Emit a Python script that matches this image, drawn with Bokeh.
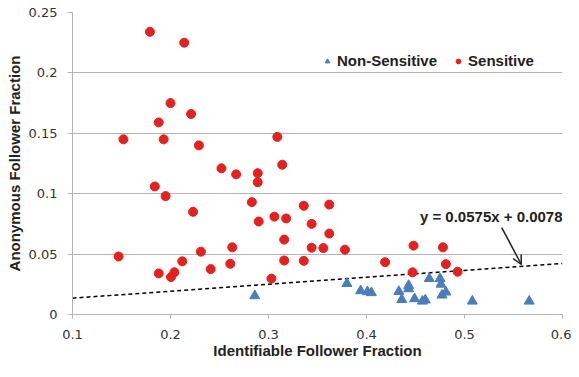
from bokeh.plotting import figure
from bokeh.models import (Range1d, FixedTicker, Legend, LegendItem, Label, Arrow, OpenHead)
from bokeh.embed import file_html
from bokeh.resources import INLINE

# ---- data ----
sens_x = [0.179, 0.214, 0.200, 0.221, 0.188, 0.152, 0.193, 0.229, 0.252, 0.267,
          0.184, 0.195, 0.223, 0.147, 0.231, 0.263, 0.212, 0.261, 0.241, 0.188,
          0.204, 0.2005, 0.309, 0.314, 0.289, 0.289, 0.283, 0.336, 0.362, 0.290,
          0.306, 0.318, 0.344, 0.316, 0.362, 0.344, 0.356, 0.378, 0.316, 0.336,
          0.303, 0.419, 0.448, 0.478, 0.481, 0.447, 0.493]
sens_y = [0.234, 0.225, 0.175, 0.166, 0.159, 0.145, 0.145, 0.140, 0.121, 0.116,
          0.106, 0.098, 0.085, 0.048, 0.052, 0.0556, 0.044, 0.042, 0.0376, 0.034,
          0.035, 0.031, 0.147, 0.124, 0.117, 0.1095, 0.093, 0.090, 0.091, 0.077,
          0.081, 0.0795, 0.075, 0.062, 0.067, 0.0553, 0.055, 0.0537, 0.0447, 0.0444,
          0.0297, 0.0433, 0.057, 0.0556, 0.0417, 0.0349, 0.0354]

nons_x = [0.286, 0.380, 0.394, 0.401, 0.405, 0.433, 0.443, 0.443, 0.436, 0.449,
          0.457, 0.460, 0.464, 0.475, 0.476, 0.477, 0.481, 0.508, 0.566]
nons_y = [0.0155, 0.0256, 0.0196, 0.0188, 0.018, 0.019, 0.024, 0.0212, 0.0123, 0.013,
          0.011, 0.012, 0.0297, 0.0297, 0.025, 0.016, 0.0185, 0.011, 0.011]

trend_slope = 0.0575
trend_intercept = 0.0078
trend_x = [0.1, 0.6]
trend_label = "y = 0.0575x + 0.0078"

x_ticks = [0.1, 0.2, 0.3, 0.4, 0.5, 0.6]
x_tick_labels = ["0.1", "0.2", "0.3", "0.4", "0.5", "0.6"]
y_ticks = [0, 0.05, 0.1, 0.15, 0.2, 0.25]
y_tick_labels = ["0", "0.05", "0.1", "0.15", "0.2", "0.25"]

x_title = "Identifiable Follower Fraction"
y_title = "Anonymous Follower Fraction"
series_names = ["Non-Sensitive", "Sensitive"]

# ---- figure ----
RED = "#e3211f"
BLUE = "#4a7ebb"
GRID = "#b4b4b4"
BOLD_FONT = "Liberation Sans"
TICK_FONT = "DejaVu Sans"

p = figure(width=571, height=361, output_backend="svg", toolbar_location=None,
           x_range=Range1d(0.1, 0.6), y_range=Range1d(0, 0.25),
           min_border_left=72, min_border_right=9, min_border_top=12, min_border_bottom=45)
p.outline_line_color = None
p.background_fill_color = "white"
p.border_fill_color = "white"

p.xgrid.grid_line_color = None
p.ygrid.grid_line_color = GRID
p.ygrid.grid_line_width = 1
p.ygrid.ticker = FixedTicker(ticks=y_ticks)

for ax in (p.xaxis[0], p.yaxis[0]):
    ax.axis_line_color = GRID
    ax.major_tick_line_color = GRID
    ax.minor_tick_line_color = None
    ax.major_tick_in = 0
    ax.major_tick_out = 5
    ax.major_label_text_font = TICK_FONT
    ax.major_label_text_font_size = "13px"
    ax.major_label_text_color = "#333333"
    ax.axis_label_text_font = BOLD_FONT
    ax.axis_label_text_font_size = "15px"
    ax.axis_label_text_font_style = "bold"
    ax.axis_label_text_color = "#222222"

p.xaxis[0].ticker = FixedTicker(ticks=x_ticks)
p.xaxis[0].major_label_overrides = dict(zip(x_ticks, x_tick_labels))
p.xaxis[0].major_label_standoff = 11
p.xaxis[0].axis_label = x_title
p.xaxis[0].axis_label_standoff = 0
p.xaxis[0].major_tick_out = 4

p.yaxis[0].ticker = FixedTicker(ticks=y_ticks)
p.yaxis[0].major_label_overrides = dict(zip(y_ticks, y_tick_labels))
p.yaxis[0].major_label_standoff = 10
p.yaxis[0].axis_label = y_title
p.yaxis[0].axis_label_standoff = 3

# trend line
trend_y = [trend_slope * x + trend_intercept for x in trend_x]
p.line(trend_x, trend_y, line_color="black", line_width=1.5, line_dash="4 3")

r_non = p.scatter(nons_x, nons_y, marker="triangle", size=10,
                  fill_color=BLUE, line_color=BLUE)
r_sen = p.scatter(sens_x, sens_y, marker="circle", size=9,
                  fill_color=RED, line_color=RED)

legend = Legend(items=[LegendItem(label=series_names[0], renderers=[r_non]),
                       LegendItem(label=series_names[1], renderers=[r_sen])],
                orientation="horizontal", location=(249, 245),
                padding=0, margin=0, spacing=15, label_standoff=4,
                glyph_width=12, glyph_height=12,
                border_line_alpha=0, background_fill_alpha=0,
                label_text_font=BOLD_FONT, label_text_font_size="15px",
                label_text_font_style="bold", label_text_color="#222222")
p.add_layout(legend, "center")

# equation annotation with arrow
p.add_layout(Label(x=0.4545, y=0.081, text=trend_label, text_font=BOLD_FONT,
                   text_font_size="15px", text_font_style="bold",
                   text_color="#222222", text_baseline="middle", text_align="left"))
tip_x = 0.558
tip_y = trend_slope * tip_x + trend_intercept + 0.0015
p.add_layout(Arrow(x_start=0.538, y_start=0.072, x_end=tip_x, y_end=tip_y,
                   line_color="#222222", line_width=1.5,
                   end=OpenHead(size=9, line_color="#222222", line_width=1.5)))

open("out.html", "w").write(file_html(p, INLINE))
